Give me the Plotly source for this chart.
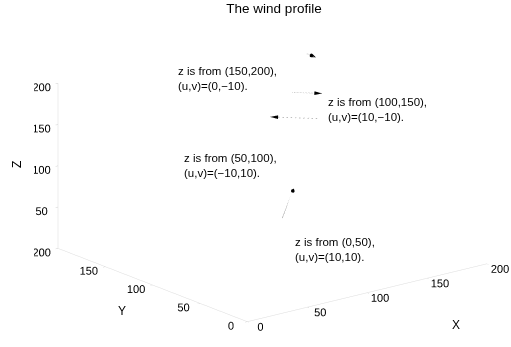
import plotly.graph_objects as go

# ---- data ----
layers = ["(0,50)", "(50,100)", "(100,150)", "(150,200)"]
uv = [(10, 10), (-10, 10), (10, -10), (0, -10)]
# arrow tails (x, y, z) and length scale for each layer
tails_x = [128, 196, 163, 167]
tails_y = [125, 174, 159, 149]
tails_z = [25, 100, 150, 200]
scales = [4.5, 2.2, 1.4, 1.0]
# text label anchor positions
text_x = [92, 91, 185, 94]
text_y = [68, 184, 151, 194]
text_z = [25, 75, 125, 175]
ticks = [0, 50, 100, 150, 200]
# axis titles (paper positions)
axis_names = ["X", "Y", "Z"]
title_px = [(456, 325), (122, 311), (17, 165)]

W, H = 511, 347
FONT = "Liberation Sans, Arial"

fig = go.Figure()

for i in range(4):
    u, v = uv[i]
    s = scales[i]
    x0, y0, z0 = tails_x[i], tails_y[i], tails_z[i]
    x1, y1 = x0 + u * s, y0 + v * s
    fig.add_trace(go.Scatter3d(
        x=[x0, x1], y=[y0, y1], z=[z0, z0], mode="lines",
        line=dict(color="#a8a8a8", width=1.5, dash="dot"),
        showlegend=False, hoverinfo="skip"))
    n = (u * u + v * v) ** 0.5
    fig.add_trace(go.Cone(
        x=[x1], y=[y1], z=[z0], u=[u / n], v=[v / n], w=[0],
        anchor="tip", sizemode="absolute", sizeref=5,
        colorscale=[[0, "black"], [1, "black"]], showscale=False,
        lighting=dict(ambient=1, diffuse=0, specular=0),
        hoverinfo="skip"))

scene_ann = []
for i in range(4):
    u, v = uv[i]
    scene_ann.append(dict(
        x=text_x[i], y=text_y[i], z=text_z[i],
        text=f"z is from {layers[i]},<br>(u,v)=({u},{v}).".replace("-", "\u2212"),
        showarrow=False, xanchor="left", align="left",
        font=dict(family=FONT, size=11.5, color="black")))

paper_ann = []
for name, (px, py) in zip(axis_names, title_px):
    paper_ann.append(dict(
        x=px / W, y=1 - py / H, xref="paper", yref="paper", text=name,
        showarrow=False, textangle=-90 if name == "Z" else 0,
        xanchor="center", yanchor="middle",
        font=dict(family=FONT, size=12, color="black")))

axis_common = dict(
    range=[0, 200], tickvals=ticks, showgrid=False, zeroline=False,
    showbackground=False, showline=True, linecolor="#dcdcdc", linewidth=1,
    ticks="outside", ticklen=3, tickcolor="#d0d0d0", tickangle=0,
    tickfont=dict(family=FONT, size=11.5, color="black"),
    title=dict(text=""), showspikes=False)

fig.update_layout(
    width=W, height=H,
    margin=dict(l=0, r=0, t=0, b=0),
    paper_bgcolor="white", plot_bgcolor="white",
    title=dict(text="The wind profile", x=274 / W, xanchor="center", y=0.975, yanchor="middle",
               font=dict(family=FONT, size=13.5, color="black")),
    annotations=paper_ann,
    scene=dict(
        domain=dict(x=[0.066, 1], y=[0, 1]),
        xaxis=dict(**axis_common),
        yaxis=dict(**axis_common),
        zaxis=dict(**axis_common),
        aspectmode="manual", aspectratio=dict(x=1.76, y=1.76, z=1.0),
        camera=dict(eye=dict(x=-2.18, y=-2.76, z=1.13),
                    center=dict(x=0, y=0, z=0),
                    projection=dict(type="orthographic")),
        annotations=scene_ann,
    ),
)

fig.write_html("out.html")
